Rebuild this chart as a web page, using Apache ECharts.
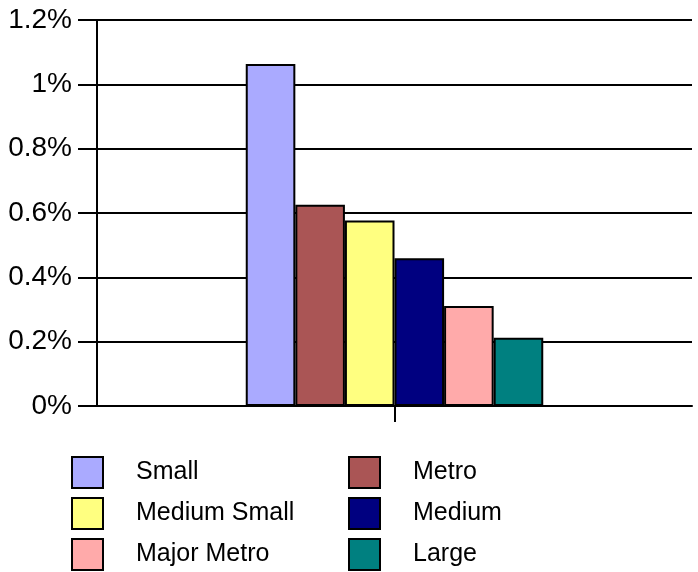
<!DOCTYPE html>
<html>
<head>
<meta charset="utf-8">
<script src="https://cdn.jsdelivr.net/npm/echarts@6/dist/echarts.min.js"></script>
<style>html,body{margin:0;padding:0;background:#fff}#c{width:698px;height:572px}</style>
</head>
<body>
<div id="c"></div>
<script>
const categories = [''];
const seriesNames = ['Small', 'Metro', 'Medium Small', 'Medium', 'Major Metro', 'Large'];
const seriesValues = [1.063, 0.626, 0.577, 0.459, 0.311, 0.212];
const seriesColors = ['#aaaaff', '#aa5555', '#ffff80', '#000080', '#ffaaaa', '#008080'];
const yTicks = [0, 0.2, 0.4, 0.6, 0.8, 1.0, 1.2];

const FONT = '"Liberation Sans", Arial, sans-serif';
const chart = echarts.init(document.getElementById('c'), null, {renderer: 'canvas'});

const series = seriesNames.map((n, i) => ({
  name: n,
  type: 'bar',
  data: [seriesValues[i]],
  barGap: '0%',
  barCategoryGap: '50%',
  itemStyle: {color: seriesColors[i], borderColor: '#000', borderWidth: 2},
  emphasis: {disabled: true}
}));

const legendBase = {
  orient: 'vertical',
  itemWidth: 31,
  itemHeight: 31,
  itemGap: 8,
  padding: 0,
  height: 200,
  icon: 'rect',
  selectedMode: false,
  textStyle: {fontFamily: FONT, fontSize: 25, color: '#000', padding: [0, 0, 0, 28]},
  itemStyle: {borderColor: '#000', borderWidth: 2}
};

chart.setOption({
  animation: false,
  textStyle: {fontFamily: FONT},
  grid: {left: 97, right: 6, top: 20, bottom: 166, containLabel: false},
  xAxis: {
    type: 'category',
    data: categories,
    axisLine: {lineStyle: {color: '#000', width: 2}},
    axisTick: {show: true, alignWithLabel: true, length: 16, lineStyle: {color: '#000', width: 2}},
    axisLabel: {show: false}
  },
  yAxis: {
    type: 'value',
    min: yTicks[0],
    max: yTicks[yTicks.length - 1],
    interval: 0.2,
    axisLine: {show: true, lineStyle: {color: '#000', width: 2}},
    axisTick: {show: true, length: 19, lineStyle: {color: '#000', width: 2}},
    axisLabel: {
      margin: 25, fontSize: 28, color: '#000', fontFamily: FONT,
      formatter: v => (+v.toFixed(1)) + '%'
    },
    splitLine: {show: true, lineStyle: {color: '#000', width: 2}}
  },
  legend: [
    Object.assign({}, legendBase, {left: 71, top: 456, data: ['Small', 'Medium Small', 'Major Metro']}),
    Object.assign({}, legendBase, {left: 348, top: 456, data: ['Metro', 'Medium', 'Large']})
  ],
  series: series
});
</script>
</body>
</html>
